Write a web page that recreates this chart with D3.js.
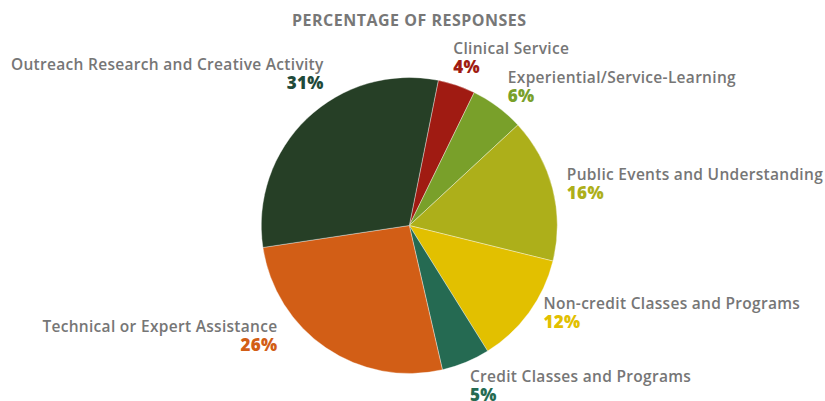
<!DOCTYPE html>
<html>
<head>
<meta charset="utf-8">
<script src="https://cdn.jsdelivr.net/npm/d3@7"></script>
<style>
  body { margin: 0; background: #fff; }
  #chart { width: 825px; height: 401px; }
  text { font-family: "Open Sans", "DejaVu Sans", sans-serif; }
</style>
</head>
<body>
<div id="chart"></div>
<script>
// Dữ liệu
const categories = [
  "Clinical Service",
  "Experiential/Service-Learning",
  "Public Events and Understanding",
  "Non-credit Classes and Programs",
  "Credit Classes and Programs",
  "Technical or Expert Assistance",
  "Outreach Research and Creative Activity"
];
const shares = [4.1, 5.9, 15.8, 12.3, 5.3, 26.3, 30.6];
const colors = ["#a01b12", "#79a02a", "#adaf1a", "#e2c000", "#256a52", "#d25e16", "#263f26"];
const labelColors = ["#a01b12", "#79a02a", "#adaf1a", "#e2c000", "#256a52", "#d25e16", "#1f4a3a"];

// Kích thước
const W = 825, H = 401;
const cx = 409.3, cy = 225.5, radius = 148;
const labelRadius = 172;
const startDeg = 11.3;

// chỉnh vị trí nhãn cho khớp bản gốc
const labelNudge = {
  "Clinical Service": [-11, -9],
  "Experiential/Service-Learning": [-4, -4],
  "Public Events and Understanding": [-9, -3],
  "Non-credit Classes and Programs": [-5, -18],
  "Credit Classes and Programs": [-5, -2],
  "Technical or Expert Assistance": [-35, -36],
  "Outreach Research and Creative Activity": [33, -31]
};

const data = categories.map((c, i) => ({ name: c, value: shares[i], color: colors[i], labelColor: labelColors[i] }));

const svg = d3.select("#chart").append("svg")
  .attr("width", W)
  .attr("height", H);

svg.append("text")
  .attr("x", cx)
  .attr("y", 26)
  .attr("text-anchor", "middle")
  .attr("fill", "#777")
  .style("font-size", "16px")
  .style("font-weight", "700")
  .style("letter-spacing", "0.5px")
  .text("PERCENTAGE OF RESPONSES");

const start = startDeg * Math.PI / 180;
const pie = d3.pie()
  .sort(null)
  .value(d => d.value)
  .startAngle(start)
  .endAngle(start + 2 * Math.PI);

const arc = d3.arc().innerRadius(0).outerRadius(radius);
const labelArc = d3.arc().innerRadius(labelRadius).outerRadius(labelRadius);

const g = svg.append("g").attr("transform", `translate(${cx},${cy})`);
const arcs = pie(data);

g.selectAll(".slice")
  .data(arcs)
  .enter()
  .append("path")
  .attr("class", "slice")
  .attr("d", arc)
  .attr("fill", d => d.data.color)
  .attr("stroke", "#ffffff")
  .attr("stroke-opacity", 0.6)
  .attr("stroke-width", 0.6);

// Nhãn
const labels = g.selectAll(".label")
  .data(arcs)
  .enter()
  .append("g")
  .attr("class", "label")
  .attr("transform", d => {
    const [x, y] = labelArc.centroid(d);
    const n = labelNudge[d.data.name];
    return `translate(${x + n[0]},${y + n[1]})`;
  });

const anchorOf = d => ((d.startAngle + d.endAngle) / 2 % (2 * Math.PI)) > Math.PI ? "end" : "start";

labels.append("text")
  .attr("text-anchor", anchorOf)
  .attr("fill", "#767676")
  .style("font-size", "15.5px")
  .style("font-weight", "600")
  .style("letter-spacing", "0.3px")
  .text(d => d.data.name);

labels.append("text")
  .attr("y", 19)
  .attr("text-anchor", anchorOf)
  .attr("fill", d => d.data.labelColor)
  .style("font-size", "17px")
  .style("font-weight", "800")
  .style("letter-spacing", "0.3px")
  .text(d => Math.round(d.data.value) + "%");
</script>
</body>
</html>
